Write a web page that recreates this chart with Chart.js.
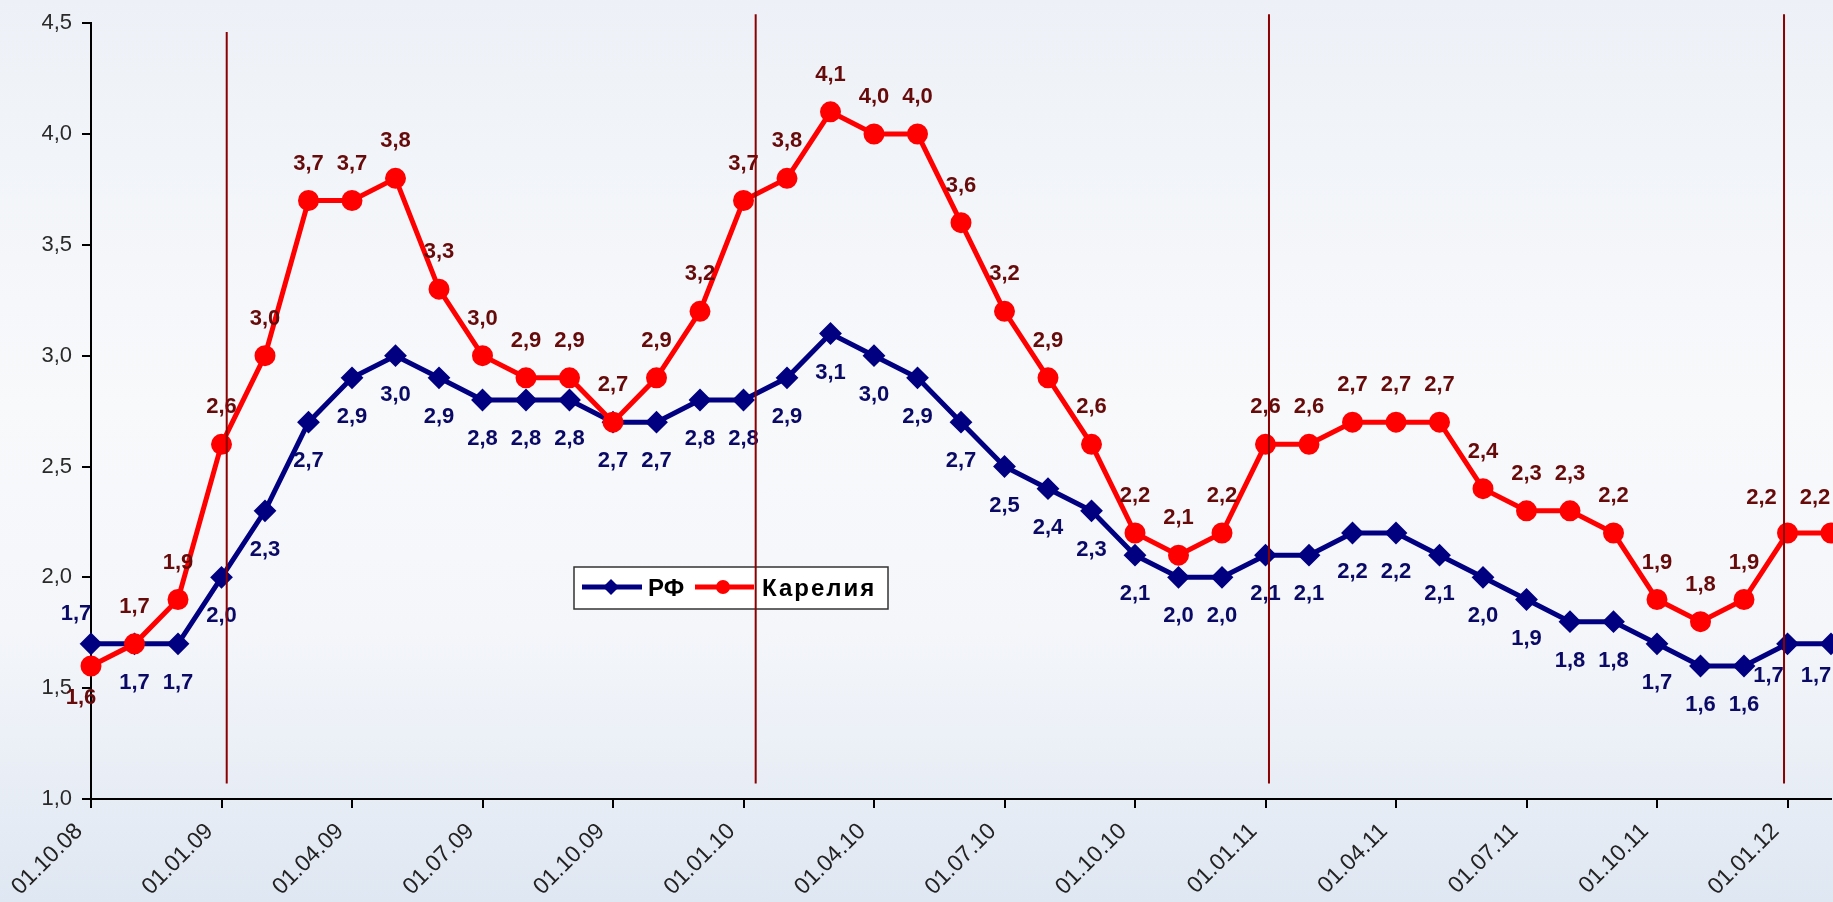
<!DOCTYPE html>
<html>
<head>
<meta charset="utf-8">
<script src="https://cdn.jsdelivr.net/npm/chart.js"></script>
<style>
  html, body { margin: 0; padding: 0; }
  body {
    width: 1833px; height: 902px; overflow: hidden;
    background: linear-gradient(to bottom, #edf1f7 0%, #f8f9fb 45%, #f4f6fa 70%, #dfe7f2 100%);
  }
  canvas { display: block; }
</style>
</head>
<body>
<canvas id="grafico" width="1833" height="902"></canvas>
<script>
// Fechas (mensual, 01.10.08 - 01.02.12)
const meses = [
  '01.10.08', '01.11.08', '01.12.08',
  '01.01.09', '01.02.09', '01.03.09', '01.04.09', '01.05.09', '01.06.09',
  '01.07.09', '01.08.09', '01.09.09', '01.10.09', '01.11.09', '01.12.09',
  '01.01.10', '01.02.10', '01.03.10', '01.04.10', '01.05.10', '01.06.10',
  '01.07.10', '01.08.10', '01.09.10', '01.10.10', '01.11.10', '01.12.10',
  '01.01.11', '01.02.11', '01.03.11', '01.04.11', '01.05.11', '01.06.11',
  '01.07.11', '01.08.11', '01.09.11', '01.10.11', '01.11.11', '01.12.11',
  '01.01.12', '01.02.12'
];

// РФ
const rf = [
  1.7, 1.7, 1.7,
  2.0, 2.3, 2.7, 2.9, 3.0, 2.9, 2.8, 2.8, 2.8, 2.7, 2.7, 2.8,
  2.8, 2.9, 3.1, 3.0, 2.9, 2.7, 2.5, 2.4, 2.3, 2.1, 2.0, 2.0,
  2.1, 2.1, 2.2, 2.2, 2.1, 2.0, 1.9, 1.8, 1.8, 1.7, 1.6, 1.6,
  1.7, 1.7
];

// Карелия
const karelia = [
  1.6, 1.7, 1.9,
  2.6, 3.0, 3.7, 3.7, 3.8, 3.3, 3.0, 2.9, 2.9, 2.7, 2.9, 3.2,
  3.7, 3.8, 4.1, 4.0, 4.0, 3.6, 3.2, 2.9, 2.6, 2.2, 2.1, 2.2,
  2.6, 2.6, 2.7, 2.7, 2.7, 2.4, 2.3, 2.3, 2.2, 1.9, 1.8, 1.9,
  2.2, 2.2
];

// Eje Y
const yMin = 1.0;
const yMax = 4.5;
const yStep = 0.5;

// Lineas verticales (posicion en el eje de categorias)
const lineasX = [3.12, 15.28, 27.08, 38.92];
const lineasTop = [4.46, 4.54, 4.54, 4.54];
const lineaBottom = 1.07;

const fuente = "'Liberation Sans', Arial, sans-serif";
const coma = v => v.toFixed(1).replace('.', ',');

// Ajustes manuales de etiquetas [dx, dy]
const ajusteRf = { 0: [-15, -30], 39: [-19, 32], 40: [-15, 32] };
const ajusteKar = { 0: [-10, 32], 39: [-26, -35], 40: [-16, -35] };

// Plugin: etiquetas de valores
const etiquetas = {
  id: 'etiquetas',
  afterDatasetsDraw(chart) {
    const ctx = chart.ctx;
    ctx.save();
    ctx.font = 'bold 22px ' + fuente;
    ctx.textAlign = 'center';
    ctx.textBaseline = 'middle';
    chart.data.datasets.forEach((ds, i) => {
      const meta = chart.getDatasetMeta(i);
      const esRf = ds.label === 'РФ';
      ctx.fillStyle = esRf ? '#0a0a66' : '#660a0a';
      const ajuste = esRf ? ajusteRf : ajusteKar;
      meta.data.forEach((p, j) => {
        let dx = 0, dy = esRf ? 39 : -37;
        if (ajuste[j]) { dx = ajuste[j][0]; dy = ajuste[j][1]; }
        ctx.fillText(coma(ds.data[j]), p.x + dx, p.y + dy);
      });
    });
    ctx.restore();
  }
};

// Plugin: leyenda dentro del grafico y lineas verticales
const extras = {
  id: 'extras',
  afterDraw(chart) {
    const ctx = chart.ctx;
    const x = chart.scales.x, y = chart.scales.y;

    // leyenda
    ctx.save();
    ctx.fillStyle = '#ffffff';
    ctx.fillRect(574, 567, 314, 42);
    ctx.strokeStyle = '#333333';
    ctx.lineWidth = 1.5;
    ctx.strokeRect(574, 567, 314, 42);

    ctx.strokeStyle = '#000080';
    ctx.lineWidth = 5;
    ctx.beginPath(); ctx.moveTo(582, 587); ctx.lineTo(642, 587); ctx.stroke();
    ctx.fillStyle = '#000080';
    ctx.beginPath();
    ctx.moveTo(611, 579); ctx.lineTo(619, 587); ctx.lineTo(611, 595); ctx.lineTo(603, 587);
    ctx.closePath(); ctx.fill();

    ctx.strokeStyle = '#ff0000';
    ctx.beginPath(); ctx.moveTo(695, 587); ctx.lineTo(754, 587); ctx.stroke();
    ctx.fillStyle = '#ff0000';
    ctx.beginPath(); ctx.arc(723, 587, 7, 0, Math.PI * 2); ctx.fill();

    ctx.fillStyle = '#000000';
    ctx.font = 'bold 24px ' + fuente;
    ctx.textBaseline = 'middle';
    ctx.textAlign = 'left';
    ctx.fillText('РФ', 648, 589);
    ctx.letterSpacing = '2px';
    ctx.fillText('Карелия', 762, 589);
    ctx.restore();

    // lineas verticales
    ctx.save();
    ctx.strokeStyle = '#8b0000';
    ctx.lineWidth = 2;
    lineasX.forEach((v, i) => {
      const px = x.getPixelForValue(0) + (x.getPixelForValue(1) - x.getPixelForValue(0)) * v;
      ctx.beginPath();
      ctx.moveTo(px, y.getPixelForValue(lineasTop[i]));
      ctx.lineTo(px, y.getPixelForValue(lineaBottom));
      ctx.stroke();
    });
    ctx.restore();
  }
};

const canvas = document.getElementById('grafico').getContext('2d');

const datos = {
  labels: meses,
  datasets: [
    {
      label: 'РФ',
      data: rf,
      borderColor: '#000080',
      backgroundColor: '#000080',
      borderWidth: 5,
      pointStyle: 'rectRot',
      pointRadius: 10,
      pointBorderWidth: 2,
      pointBackgroundColor: '#000080',
      pointBorderColor: '#000080',
      tension: 0,
      clip: false,
      order: 1,
    },
    {
      label: 'Карелия',
      data: karelia,
      borderColor: '#ff0000',
      backgroundColor: '#ff0000',
      borderWidth: 5,
      pointStyle: 'circle',
      pointRadius: 9.5,
      pointBorderWidth: 2,
      pointBackgroundColor: '#ff0000',
      pointBorderColor: '#ff0000',
      tension: 0,
      clip: false,
      order: 0,
    },
  ],
};

const opciones = {
  responsive: false,
  animation: false,
  layout: { autoPadding: false, padding: { top: 20, right: 2, left: 0, bottom: 0 } },
  plugins: {
    legend: { display: false },
    tooltip: { enabled: false },
  },
  scales: {
    x: {
      type: 'category',
      offset: false,
      afterBuildTicks: s => { s.ticks = s.ticks.filter((t, i) => i % 3 === 0); },
      afterFit: s => { s.height = 103; s.paddingRight = 0; },
      border: { display: true, color: '#000', width: 2 },
      grid: {
        drawOnChartArea: false,
        drawTicks: true,
        tickLength: 9,
        lineWidth: 2,
        color: '#000',
      },
      ticks: {
        autoSkip: false,
        minRotation: 45,
        maxRotation: 45,
        padding: 10,
        labelOffset: -12,
        color: '#222',
        font: { family: fuente, size: 23 },
        callback: v => meses[v],
      },
    },
    y: {
      min: yMin,
      max: yMax,
      afterFit: s => { s.width = 91; },
      border: { display: true, color: '#000', width: 2 },
      grid: {
        drawOnChartArea: false,
        drawTicks: true,
        tickLength: 9,
        lineWidth: 2,
        color: '#000',
      },
      ticks: {
        stepSize: yStep,
        padding: 10,
        color: '#2a2a2a',
        font: { family: fuente, size: 22 },
        callback: v => coma(v),
      },
    },
  },
};

new Chart(canvas, {
  type: 'line',
  data: datos,
  options: opciones,
  plugins: [etiquetas, extras],
});
</script>
</body>
</html>
